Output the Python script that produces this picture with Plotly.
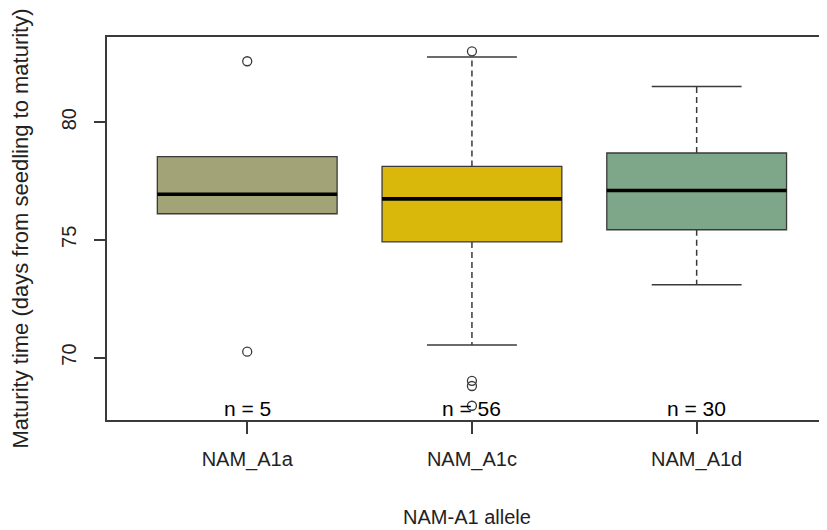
import plotly.graph_objects as go

# ---- data ----
categories = ["NAM_A1a", "NAM_A1c", "NAM_A1d"]
x_pos = [1, 2, 3]
q1 = [76.11, 74.91, 75.43]
median = [76.94, 76.74, 77.10]
q3 = [78.54, 78.12, 78.69]
lower_whisker = [76.11, 70.53, 73.09]
upper_whisker = [78.54, 82.77, 81.52]
outliers = [[82.59, 70.25], [83.01, 69.01, 68.79, 67.95], []]
counts = [5, 56, 30]
fill_colors = ["#A2A376", "#DAB80B", "#7EA78A"]

FONT = "Liberation Sans, Arial, sans-serif"
DARK = "#3a3a3a"
BOX_W = 0.8
CAP_HALF = 0.2

fig = go.Figure()

for i, cat in enumerate(categories):
    x = x_pos[i]
    fig.add_trace(go.Box(
        x=[x], q1=[q1[i]], median=[median[i]], q3=[q3[i]],
        lowerfence=[q1[i]], upperfence=[q3[i]],
        width=BOX_W, fillcolor=fill_colors[i],
        line=dict(color=DARK, width=1.3), boxpoints=False,
        whiskerwidth=0, showlegend=False, hoverinfo="skip"))
    fig.add_trace(go.Scatter(
        x=[x - BOX_W / 2, x + BOX_W / 2], y=[median[i], median[i]],
        mode="lines", line=dict(color="black", width=3.6),
        showlegend=False, hoverinfo="skip"))
    if upper_whisker[i] > q3[i]:
        fig.add_trace(go.Scatter(
            x=[x, x], y=[q3[i], upper_whisker[i]], mode="lines",
            line=dict(color=DARK, width=1.5, dash="6px,4px"),
            showlegend=False, hoverinfo="skip"))
        fig.add_trace(go.Scatter(
            x=[x - CAP_HALF, x + CAP_HALF], y=[upper_whisker[i]] * 2,
            mode="lines", line=dict(color=DARK, width=1.5),
            showlegend=False, hoverinfo="skip"))
    if lower_whisker[i] < q1[i]:
        fig.add_trace(go.Scatter(
            x=[x, x], y=[q1[i], lower_whisker[i]], mode="lines",
            line=dict(color=DARK, width=1.5, dash="6px,4px"),
            showlegend=False, hoverinfo="skip"))
        fig.add_trace(go.Scatter(
            x=[x - CAP_HALF, x + CAP_HALF], y=[lower_whisker[i]] * 2,
            mode="lines", line=dict(color=DARK, width=1.5),
            showlegend=False, hoverinfo="skip"))
    if outliers[i]:
        fig.add_trace(go.Scatter(
            x=[x] * len(outliers[i]), y=outliers[i], mode="markers",
            marker=dict(symbol="circle-open", size=9,
                        color=DARK, line=dict(width=1.3, color=DARK)),
            showlegend=False, hoverinfo="skip"))
    fig.add_annotation(x=x, y=67.83, text=f"n = {counts[i]}",
                       showarrow=False, yanchor="middle",
                       font=dict(family=FONT, size=21, color="black"))

fig.update_layout(
    width=819, height=522,
    margin=dict(l=99, r=0, t=29, b=110, autoexpand=False),
    paper_bgcolor="white", plot_bgcolor="white",
    font=dict(family=FONT, size=20, color="#222"),
    xaxis=dict(
        range=[0.376, 3.58], tickvals=x_pos, ticktext=categories,
        showgrid=False, zeroline=False, showline=True, mirror=True,
        linecolor=DARK, linewidth=1.5, ticks="outside", ticklen=12,
        tickwidth=1.5, tickcolor=DARK, ticklabelstandoff=8,
        title=dict(text="NAM-A1 allele", standoff=40,
                   font=dict(size=20, family=FONT, color="#222")),
        tickfont=dict(size=20, family=FONT, color="#222")),
    yaxis=dict(
        range=[67.345, 83.62], tickvals=[70, 75, 80],
        tickangle=-90,
        showgrid=False, zeroline=False, showline=True, mirror=False,
        linecolor=DARK, linewidth=1.5, ticks="outside", ticklen=11,
        tickwidth=1.5, tickcolor=DARK, ticklabelstandoff=10,
        title=dict(text="Maturity time (days from seedling to maturity)",
                   standoff=26,
                   font=dict(size=22, family=FONT, color="#222")),
        tickfont=dict(size=20, family=FONT, color="#222")),
)

fig.write_html("out.html")
